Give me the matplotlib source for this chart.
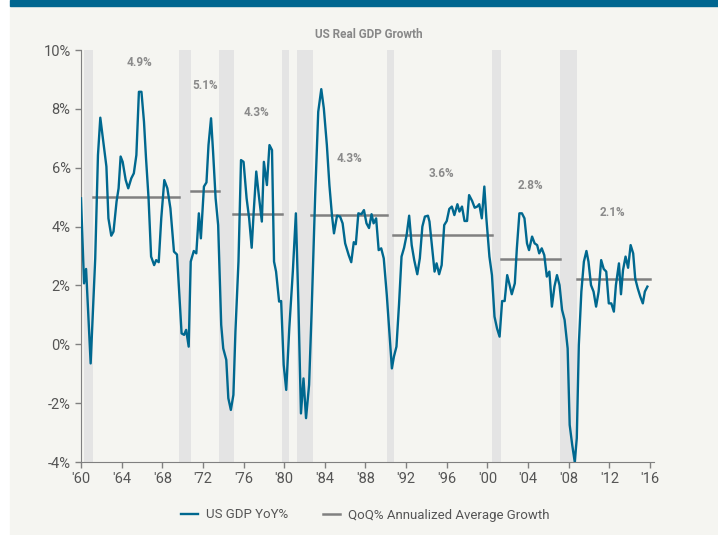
import matplotlib.pyplot as plt
from matplotlib.patches import Rectangle

# quarterly-ish readings of US real GDP YoY %
dates = [1960.0, 1960.3, 1960.5, 1960.95, 1961.4, 1961.67, 1961.9, 1962.5, 1962.7, 1962.98,
         1963.2, 1963.5, 1963.7, 1963.9, 1964.1, 1964.4, 1964.65, 1964.95, 1965.2, 1965.45,
         1965.7, 1965.95, 1966.2, 1966.4, 1966.65, 1966.9, 1967.2, 1967.4, 1967.65, 1967.9,
         1968.2, 1968.5, 1968.8, 1969.15, 1969.45, 1969.9, 1970.15, 1970.35, 1970.6, 1970.8,
         1971.1, 1971.35, 1971.6, 1971.8, 1972.1, 1972.35, 1972.55, 1972.8, 1973.0, 1973.25,
         1973.5, 1973.8, 1974.0, 1974.3, 1974.5, 1974.75, 1975.0, 1975.2, 1975.5, 1975.75,
         1976.0, 1976.3, 1976.55, 1976.8, 1977.0, 1977.25, 1977.5, 1977.8, 1978.0, 1978.3,
         1978.55, 1978.8, 1979.0, 1979.2, 1979.5, 1979.7, 1979.95, 1980.2, 1980.5, 1980.85,
         1981.15, 1981.4, 1981.65, 1981.9, 1982.15, 1982.45, 1982.7, 1983.05, 1983.35, 1983.65,
         1983.9, 1984.2, 1984.45, 1984.7, 1984.9, 1985.2, 1985.5, 1985.75, 1986.0, 1986.35,
         1986.6, 1986.85, 1987.05, 1987.3, 1987.6, 1987.85, 1988.1, 1988.35, 1988.6, 1988.8,
         1989.05, 1989.3, 1989.55, 1989.8, 1990.1, 1990.4, 1990.6, 1990.8, 1991.05, 1991.3,
         1991.55, 1991.8, 1992.05, 1992.3, 1992.55, 1992.8, 1993.1, 1993.35, 1993.6, 1993.85,
         1994.15, 1994.3, 1994.5, 1994.8, 1995.0, 1995.25, 1995.5, 1995.75, 1996.0, 1996.25,
         1996.5, 1996.75, 1997.05, 1997.25, 1997.5, 1997.75, 1998.0, 1998.2, 1998.5, 1998.75,
         1999.0, 1999.2, 1999.45, 1999.7, 1999.9, 2000.2, 2000.45, 2000.7, 2000.95, 2001.2,
         2001.45, 2001.7, 2001.95, 2002.15, 2002.4, 2002.7, 2002.9, 2003.15, 2003.4, 2003.65,
         2003.9, 2004.1, 2004.4, 2004.65, 2004.9, 2005.1, 2005.35, 2005.6, 2005.85, 2006.1,
         2006.35, 2006.6, 2006.85, 2007.1, 2007.35, 2007.6, 2007.9, 2008.1, 2008.35, 2008.6,
         2008.8, 2009.0, 2009.25, 2009.5, 2009.75, 2009.95, 2010.2, 2010.45, 2010.7, 2010.95,
         2011.2, 2011.45, 2011.7, 2011.95, 2012.2, 2012.45, 2012.65, 2012.95, 2013.15, 2013.35,
         2013.6, 2013.85, 2014.1, 2014.35, 2014.55, 2014.8, 2015.05, 2015.3, 2015.5, 2015.75]
gdp_yoy = [4.96, 2.07, 2.56, -0.65, 2.92, 6.43, 7.70, 6.04, 4.28, 3.69,
           3.83, 4.85, 5.30, 6.38, 6.20, 5.58, 5.30, 5.64, 5.81, 6.43,
           8.58, 8.58, 7.56, 6.32, 4.96, 2.98, 2.69, 2.86, 2.79, 4.28,
           5.58, 5.30, 4.62, 3.15, 3.05, 0.37, 0.32, 0.49, -0.08, 2.81,
           3.17, 3.09, 4.45, 3.60, 5.36, 5.50, 6.77, 7.68, 6.54, 4.96,
           4.05, 0.66, -0.14, -0.53, -1.83, -2.23, -1.72, 0.43, 2.81, 6.26,
           6.20, 4.96, 4.28, 3.28, 4.51, 5.87, 5.07, 4.17, 6.20, 5.41,
           6.77, 6.60, 2.81, 2.47, 1.45, 1.47, -0.70, -1.55, 0.54, 2.47,
           4.45, 1.34, -2.35, -1.16, -2.51, -1.38, 1.11, 5.07, 7.90, 8.67,
           8.02, 6.77, 5.41, 4.39, 3.77, 4.37, 4.34, 4.11, 3.43, 3.03,
           2.79, 3.47, 3.40, 4.45, 4.42, 4.56, 4.11, 3.95, 4.42, 4.11,
           4.28, 3.20, 3.26, 2.92, 1.67, 0.20, -0.82, -0.42, -0.08, 1.34,
           2.98, 3.28, 3.71, 4.37, 3.37, 2.86, 2.38, 2.92, 4.00, 4.34,
           4.37, 4.17, 3.49, 2.47, 2.75, 2.38, 2.69, 4.05, 4.19, 4.60,
           4.68, 4.39, 4.76, 4.51, 4.68, 4.19, 4.19, 5.07, 4.87, 4.64,
           4.68, 4.76, 4.28, 5.36, 4.28, 2.98, 2.35, 0.94, 0.54, 0.26,
           1.47, 1.47, 2.35, 2.07, 1.70, 2.07, 3.26, 4.45, 4.45, 4.28,
           3.43, 3.20, 3.66, 3.43, 3.37, 3.09, 3.26, 3.03, 2.30, 2.47,
           1.28, 1.96, 2.35, 2.01, 1.17, 0.83, -0.14, -2.74, -3.42, -4.00,
           -3.19, -0.02, 1.79, 2.81, 3.17, 2.81, 2.01, 1.79, 1.28, 1.79,
           2.86, 2.56, 2.47, 1.39, 1.39, 1.11, 2.01, 2.75, 1.70, 2.52,
           2.98, 2.60, 3.37, 3.09, 2.24, 1.90, 1.62, 1.39, 1.79, 1.96]

# expansion averages
avg_start = [1961.2, 1970.83, 1975.0, 1982.65, 1990.75, 2001.35, 2008.8]
avg_end = [1969.65, 1973.6, 1979.8, 1990.15, 2000.5, 2007.15, 2016.05]
avg_level = [5.0, 5.22, 4.43, 4.41, 3.71, 2.90, 2.21]
avg_labels = ['4.9%', '5.1%', '4.3%', '4.3%', '3.6%', '2.8%', '2.1%']
label_x = [1965.8, 1972.2, 1977.3, 1986.4, 1995.5, 2004.2, 2012.3]
label_y = [9.57, 8.81, 7.88, 6.32, 5.79, 5.39, 4.48]

# recession shading
rec_start = [1960.3, 1969.65, 1973.6, 1979.8, 1981.3, 1990.15, 2000.45, 2007.15]
rec_end = [1961.2, 1970.83, 1975.1, 1980.45, 1982.8, 1990.8, 2001.35, 2008.8]

yticks = [-4, -2, 0, 2, 4, 6, 8, 10]
xticks = list(range(1960, 2017, 4))

plt.rcParams['font.family'] = ['Roboto', 'DejaVu Sans']
blue = '#00688f'
grey = '#808080'
text_col = '#555555'

fig = plt.figure(figsize=(7.18, 5.35), dpi=100, facecolor='white')
fig.patches.append(Rectangle((10 / 718, 0), 1, 1 - 6 / 535, transform=fig.transFigure,
                             color='#f5f5f1', zorder=-2))
fig.patches.append(Rectangle((10 / 718, 1 - 6 / 535), 1, 6 / 535, transform=fig.transFigure,
                             color='#006690', zorder=-2))

ax = fig.add_axes([81 / 718, 1 - 462 / 535, 573 / 718, 412 / 535])
ax.set_facecolor('none')

for s, e in zip(rec_start, rec_end):
    ax.axvspan(s, e, color='#e4e4e4', lw=0, zorder=0)

ax.plot(dates, gdp_yoy, color=blue, lw=1.7, label='US GDP YoY%', zorder=3)
for i, (s, e, v) in enumerate(zip(avg_start, avg_end, avg_level)):
    ax.plot([s, e], [v, v], color=grey, lw=1.8, zorder=2,
            label='QoQ% Annualized Average Growth' if i == 0 else None)
for t, x, y in zip(avg_labels, label_x, label_y):
    ax.text(x, y, t, ha='center', va='center', fontsize=8.5, fontweight='bold', color='#8a8a8a')

ax.set_xlim(1960, 2016.4)
ax.set_ylim(-4, 10)
ax.set_yticks(yticks)
ax.set_yticklabels([f'{v}%' for v in yticks])
ax.set_xticks(xticks)
ax.set_xticklabels([f"'{str(v)[2:]}" for v in xticks])
for side in ['top', 'right']:
    ax.spines[side].set_visible(False)
for side in ['left', 'bottom']:
    ax.spines[side].set_color(grey)
ax.tick_params(colors=grey, labelcolor=text_col, labelsize=10.5, length=4, width=1)

fig.text(369 / 718, 1 - 34 / 535, 'US Real GDP Growth', ha='center', va='center',
         fontsize=8.5, fontweight='bold', color='#888888')

fig.legend(loc='center', bbox_to_anchor=(365 / 718, 1 - 515 / 535), ncol=2, frameon=False,
           fontsize=9.5, handlelength=1.3, handletextpad=0.6, columnspacing=2.6,
           labelcolor=text_col)

fig.savefig('out.png', dpi=100, facecolor=fig.get_facecolor())
